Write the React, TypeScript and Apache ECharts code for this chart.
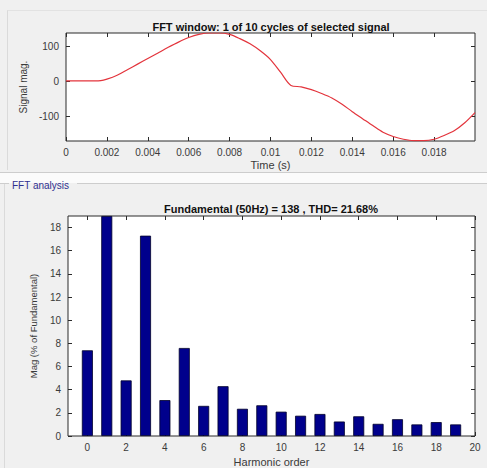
import React, { useEffect, useRef } from "react";
import * as echarts from "echarts";

// Top panel: one cycle of the selected signal (time in s, magnitude)
const signalTime = [
  0, 0.001, 0.0017, 0.002, 0.0025, 0.003, 0.0035, 0.004, 0.0045, 0.005, 0.0055, 0.006,
  0.0065, 0.007, 0.0075, 0.008, 0.0085, 0.009, 0.0095, 0.01, 0.0105, 0.011, 0.0115,
  0.012, 0.0125, 0.013, 0.0135, 0.014, 0.0145, 0.015, 0.0155, 0.016, 0.0165, 0.017,
  0.0175, 0.018, 0.0185, 0.019, 0.0195, 0.02,
];
const signalMag = [
  1, 1, 2, 6, 17, 33, 49, 65, 81, 97, 112, 125,
  134, 138, 138, 134, 122, 107, 87, 62, 25, -12, -16,
  -24, -35, -48, -66, -87, -107, -127, -146, -158, -166, -170,
  -170, -166, -155, -141, -119, -90,
];
const timeTicks = [0, 0.002, 0.004, 0.006, 0.008, 0.01, 0.012, 0.014, 0.016, 0.018];
const signalTicks = [-100, 0, 100];

// Bottom panel: harmonic spectrum (% of fundamental)
const harmonicOrder = [0, 1, 2, 3, 4, 5, 6, 7, 8, 9, 10, 11, 12, 13, 14, 15, 16, 17, 18, 19];
const harmonicMag = [
  7.4, 19, 4.8, 17.3, 3.1, 7.6, 2.6, 4.3, 2.35, 2.65,
  2.1, 1.75, 1.9, 1.25, 1.7, 1.05, 1.45, 1.0, 1.2, 1.0,
];
const orderTicks = [0, 2, 4, 6, 8, 10, 12, 14, 16, 18, 20];
const magTicks = [0, 2, 4, 6, 8, 10, 12, 14, 16, 18];

const FONT = "'Liberation Sans', Arial, Helvetica, sans-serif";
const AXIS = "#2b2b2b";
const LABEL = "#3a3a3a";

export default function App() {
  const ref = useRef<HTMLDivElement>(null);

  useEffect(() => {
    if (!ref.current) return;
    const chart = echarts.init(ref.current, undefined, { renderer: "svg" });

    const tickCommon = (vals: number[]) => ({
      show: true,
      inside: true,
      length: 4,
      customValues: vals,
      lineStyle: { color: AXIS, width: 1 },
    });
    const mirrorAxis = (grid: number, pos: string, min: number, max: number, vals: number[]) => ({
      type: "value",
      gridIndex: grid,
      position: pos,
      min,
      max,
      axisLine: { show: false, onZero: false },
      axisTick: tickCommon(vals),
      axisLabel: { show: false },
      splitLine: { show: false },
    });

    const fmtTime = (v: number) => (v === 0 ? "0" : String(+v.toFixed(3)));

    chart.setOption({
      animation: false,
      backgroundColor: "#f0f0f0",
      textStyle: { fontFamily: FONT },
      grid: [
        {
          left: 66, top: 33, width: 409, height: 108,
          show: true, backgroundColor: "#ffffff", borderColor: AXIS, borderWidth: 1,
        },
        {
          left: 68, top: 216, width: 407, height: 227,
          show: true, backgroundColor: "#ffffff", borderColor: AXIS, borderWidth: 1,
        },
      ],
      xAxis: [
        {
          type: "value",
          gridIndex: 0,
          position: "bottom",
          min: 0,
          max: 0.02,
          axisLine: { show: false, onZero: false },
          axisTick: tickCommon(timeTicks),
          axisLabel: {
            customValues: timeTicks,
            formatter: fmtTime,
            fontSize: 10,
            color: LABEL,
            margin: 6,
          },
          splitLine: { show: false },
          name: "Time (s)",
          nameLocation: "middle",
          nameGap: 18,
          nameTextStyle: { fontSize: 11, color: LABEL },
        },
        mirrorAxis(0, "top", 0, 0.02, timeTicks),
        {
          type: "value",
          gridIndex: 1,
          position: "bottom",
          min: -1,
          max: 20,
          axisLine: { show: false, onZero: false },
          axisTick: tickCommon(orderTicks),
          axisLabel: {
            customValues: orderTicks,
            fontSize: 10,
            color: LABEL,
            margin: 6,
          },
          splitLine: { show: false },
          name: "Harmonic order",
          nameLocation: "middle",
          nameGap: 20,
          nameTextStyle: { fontSize: 11, color: LABEL },
        },
        mirrorAxis(1, "top", -1, 20, orderTicks),
      ],
      yAxis: [
        {
          type: "value",
          gridIndex: 0,
          position: "left",
          min: -171,
          max: 138,
          axisLine: { show: false, onZero: false },
          axisTick: tickCommon(signalTicks),
          axisLabel: { customValues: signalTicks, fontSize: 10, color: LABEL, margin: 7 },
          splitLine: { show: false },
          name: "Signal mag.",
          nameLocation: "middle",
          nameRotate: 90,
          nameGap: 33,
          nameTextStyle: { fontSize: 10, color: LABEL },
        },
        mirrorAxis(0, "right", -171, 138, signalTicks),
        {
          type: "value",
          gridIndex: 1,
          position: "left",
          min: 0,
          max: 19,
          axisLine: { show: false, onZero: false },
          axisTick: tickCommon(magTicks),
          axisLabel: { customValues: magTicks, fontSize: 10, color: LABEL, margin: 7 },
          splitLine: { show: false },
          name: "Mag (% of Fundamental)",
          nameLocation: "middle",
          nameRotate: 90,
          nameGap: 23,
          nameTextStyle: { fontSize: 9.5, color: LABEL },
        },
        mirrorAxis(1, "right", 0, 19, magTicks),
      ],
      series: [
        {
          type: "line",
          xAxisIndex: 0,
          yAxisIndex: 0,
          data: signalTime.map((t, i) => [t, signalMag[i]]),
          showSymbol: false,
          smooth: 0.3,
          lineStyle: { color: "#e3343c", width: 1.2 },
          itemStyle: { color: "#e3343c" },
          clip: true,
        },
        {
          type: "bar",
          xAxisIndex: 2,
          yAxisIndex: 2,
          data: harmonicOrder.map((h, i) => [h, harmonicMag[i]]),
          barWidth: 11,
          itemStyle: { color: "#00008c", borderColor: "#00002a", borderWidth: 0.8 },
          clip: true,
        },
      ],
      graphic: [
        // separator band between the two panels
        { type: "rect", shape: { x: 0, y: 172, width: 487, height: 11 }, style: { fill: "#fbfbfb" }, silent: true },
        { type: "line", shape: { x1: 0, y1: 172.5, x2: 487, y2: 172.5 }, style: { stroke: "#cdcdcd", lineWidth: 1 }, silent: true },
        { type: "line", shape: { x1: 0, y1: 183.5, x2: 9, y2: 183.5 }, style: { stroke: "#cdcdcd", lineWidth: 1 }, silent: true },
        { type: "line", shape: { x1: 77, y1: 183.5, x2: 487, y2: 183.5 }, style: { stroke: "#cdcdcd", lineWidth: 1 }, silent: true },
        { type: "line", shape: { x1: 7.5, y1: 10, x2: 7.5, y2: 170 }, style: { stroke: "#dadada", lineWidth: 1 }, silent: true },
        { type: "line", shape: { x1: 7.5, y1: 10.5, x2: 487, y2: 10.5 }, style: { stroke: "#e2e2e2", lineWidth: 1 }, silent: true },
        { type: "line", shape: { x1: 4.5, y1: 184, x2: 4.5, y2: 468 }, style: { stroke: "#dadada", lineWidth: 1 }, silent: true },
        {
          type: "text",
          x: 12,
          y: 185,
          style: {
            text: "FFT analysis",
            fontSize: 10,
            fontFamily: FONT,
            fill: "#2f2f8f",
            textVerticalAlign: "middle",
          },
          silent: true,
        },
        {
          type: "text",
          x: 271,
          y: 27,
          style: {
            text: "FFT window: 1 of 10 cycles of selected signal",
            fontSize: 11,
            fontWeight: "bold",
            fontFamily: FONT,
            fill: "#111111",
            textAlign: "center",
            textVerticalAlign: "middle",
          },
          silent: true,
        },
        {
          type: "text",
          x: 271,
          y: 209,
          style: {
            text: "Fundamental (50Hz) = 138 , THD= 21.68%",
            fontSize: 11,
            fontWeight: "bold",
            fontFamily: FONT,
            fill: "#111111",
            textAlign: "center",
            textVerticalAlign: "middle",
          },
          silent: true,
        },
      ],
    });

    return () => chart.dispose();
  }, []);

  return (
    <div
      ref={ref}
      style={{ position: "fixed", left: 0, top: 0, width: 487, height: 468 }}
    />
  );
}
